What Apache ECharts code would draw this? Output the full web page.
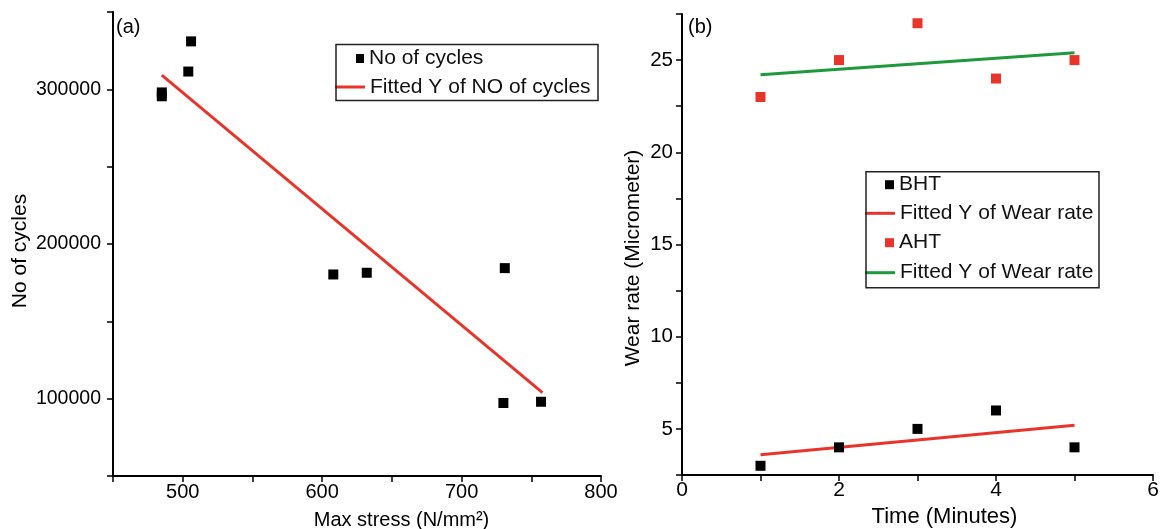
<!DOCTYPE html>
<html>
<head>
<meta charset="utf-8">
<script src="https://cdn.jsdelivr.net/npm/echarts/dist/echarts.min.js"></script>
<style>html,body{margin:0;padding:0;background:#fff}#c{width:1162px;height:529px}</style>
</head>
<body>
<div id="c"></div>
<script>
// ---- Panel (a) data ----
const stressVals = [485, 485, 504, 506, 608, 632, 731, 730, 757];
const cyclesVals = [298000, 295500, 311500, 331000, 180300, 181400, 184400, 97200, 98000];
const fitStress = [485, 758];
const fitCycles = [309200, 103900];
// ---- Panel (b) data ----
const timeVals = [1, 2, 3, 4, 5];
const bhtVals = [3, 4, 5, 6, 4];
const ahtVals = [23, 25, 27, 24, 25];
const fitTime = [1, 5];
const fitBht = [3.6, 5.2];
const fitAht = [24.2, 25.4];
// tick labels
const xTicksA = [500, 600, 700, 800];
const yTicksA = [100000, 200000, 300000];
const xTicksB = [0, 2, 4, 6];
const yTicksB = [5, 10, 15, 20, 25];

const RED = '#e8342a', GREEN = '#1e9a3c', BLACK = '#000';
const FONT = '"Liberation Sans", Arial, sans-serif';

const pairs = (xs, ys) => xs.map((x, i) => [x, ys[i]]);

function axisBase(extra) {
  return Object.assign({
    type: 'value',
    axisLine: { show: true, onZero: false, lineStyle: { color: BLACK, width: 2 } },
    axisTick: { show: true, inside: false, length: 6, lineStyle: { color: BLACK, width: 1.5 } },
    splitLine: { show: false },
    axisLabel: { color: BLACK, fontSize: 20, fontFamily: FONT }
  }, extra);
}

const chart = echarts.init(document.getElementById('c'));
const legendText = { color: '#111', fontSize: 21, fontFamily: FONT, lineHeight: 24 };
function lg(name, left, top, w, h, icon, color) {
  const d = { name: name, icon: icon };
  if (color) d.itemStyle = { color: color, opacity: 1 };
  return { data: [d], left: left, top: top, itemWidth: w, itemHeight: h, padding: 0,
           selectedMode: false, textStyle: legendText, orient: 'vertical' };
}

chart.setOption({
  animation: false,
  grid: [
    { left: 113, top: 12, width: 488, height: 464 },
    { left: 682, top: 14, width: 471, height: 461 }
  ],
  xAxis: [
    axisBase({ gridIndex: 0, min: 450, max: 800, interval: 50,
      axisLabel: { color: BLACK, fontSize: 20, fontFamily: FONT, margin: 6,
        formatter: v => xTicksA.includes(v) ? String(v) : '' } }),
    axisBase({ gridIndex: 1, min: 0, max: 6, interval: 1,
      axisLabel: { color: BLACK, fontSize: 21, fontFamily: FONT, margin: 5,
        formatter: v => xTicksB.includes(v) ? String(v) : '' } })
  ],
  yAxis: [
    axisBase({ gridIndex: 0, min: 50000, max: 350000, interval: 50000,
      axisLabel: { color: BLACK, fontSize: 19.5, fontFamily: FONT, margin: 12,
        formatter: v => yTicksA.includes(v) ? String(v) : '' } }),
    axisBase({ gridIndex: 1, min: 2.5, max: 27.5, interval: 2.5,
      axisLabel: { color: BLACK, fontSize: 20.5, fontFamily: FONT, margin: 9,
        formatter: v => yTicksB.includes(v) ? String(v) : '' } })
  ],
  legend: [
    lg('No of cycles', 356, 46.5, 8, 9, 'rect', BLACK),
    lg('Fitted Y of NO of cycles', 335, 75, 30, 3, 'rect', RED),
    lg('BHT', 885, 172.7, 9, 9, 'rect', BLACK),
    lg('Fitted Y of Wear rate', 865, 201.3, 30, 3, 'rect', RED),
    lg('AHT', 885, 230.7, 9, 9, 'rect', RED),
    lg('Fitted Y of Wear rate', 865, 260.7, 30, 3, 'rect', GREEN)
  ],
  series: [
    { name: 'No of cycles', type: 'scatter', xAxisIndex: 0, yAxisIndex: 0,
      symbol: 'rect', symbolSize: 10, itemStyle: { color: BLACK, opacity: 1 },
      data: pairs(stressVals, cyclesVals), z: 3 },
    { name: 'Fitted Y of NO of cycles', type: 'line', xAxisIndex: 0, yAxisIndex: 0,
      showSymbol: false, symbol: 'none', itemStyle: { color: RED },
      lineStyle: { color: RED, width: 3 }, data: pairs(fitStress, fitCycles), z: 2 },
    { name: 'BHT', type: 'scatter', xAxisIndex: 1, yAxisIndex: 1,
      symbol: 'rect', symbolSize: 10, itemStyle: { color: BLACK, opacity: 1 },
      data: pairs(timeVals, bhtVals), z: 3 },
    { name: 'Fitted Y of Wear rate', type: 'line', xAxisIndex: 1, yAxisIndex: 1,
      showSymbol: false, symbol: 'none', itemStyle: { color: RED },
      lineStyle: { color: RED, width: 3 }, data: pairs(fitTime, fitBht), z: 2 },
    { name: 'AHT', type: 'scatter', xAxisIndex: 1, yAxisIndex: 1,
      symbol: 'rect', symbolSize: 10, itemStyle: { color: RED, opacity: 1 },
      data: pairs(timeVals, ahtVals), z: 3 },
    { name: 'Fitted Y of Wear rate', type: 'line', xAxisIndex: 1, yAxisIndex: 1,
      showSymbol: false, symbol: 'none', itemStyle: { color: GREEN },
      lineStyle: { color: GREEN, width: 3 }, data: pairs(fitTime, fitAht), z: 2 }
  ],
  graphic: [
    { type: 'rect', shape: { x: 336, y: 44.5, width: 262, height: 56 },
      style: { fill: 'none', stroke: '#222', lineWidth: 1.5 }, z: 10 },
    { type: 'rect', shape: { x: 866, y: 171.7, width: 233, height: 116 },
      style: { fill: 'none', stroke: '#222', lineWidth: 1.5 }, z: 10 },
    { type: 'text', x: 116, y: 27, style: { text: '(a)', fontSize: 20, fontFamily: FONT, fill: BLACK,
      align: 'left', verticalAlign: 'middle' } },
    { type: 'text', x: 688, y: 27, style: { text: '(b)', fontSize: 20, fontFamily: FONT, fill: BLACK,
      align: 'left', verticalAlign: 'middle' } },
    { type: 'text', x: 20, y: 251, rotation: Math.PI / 2,
      style: { text: 'No of cycles', fontSize: 21, fontFamily: FONT, fill: BLACK, align: 'center', verticalAlign: 'middle' } },
    { type: 'text', x: 633, y: 258, rotation: Math.PI / 2,
      style: { text: 'Wear rate (Micrometer)', fontSize: 21, fontFamily: FONT, fill: BLACK, align: 'center', verticalAlign: 'middle' } },
    { type: 'text', x: 401.5, y: 520,
      style: { text: 'Max stress (N/mm²)', fontSize: 20, fontFamily: FONT, fill: BLACK, align: 'center', verticalAlign: 'middle' } },
    { type: 'text', x: 944.5, y: 517,
      style: { text: 'Time (Minutes)', fontSize: 22, fontFamily: FONT, fill: BLACK, align: 'center', verticalAlign: 'middle' } }
  ]
});
</script>
</body>
</html>
